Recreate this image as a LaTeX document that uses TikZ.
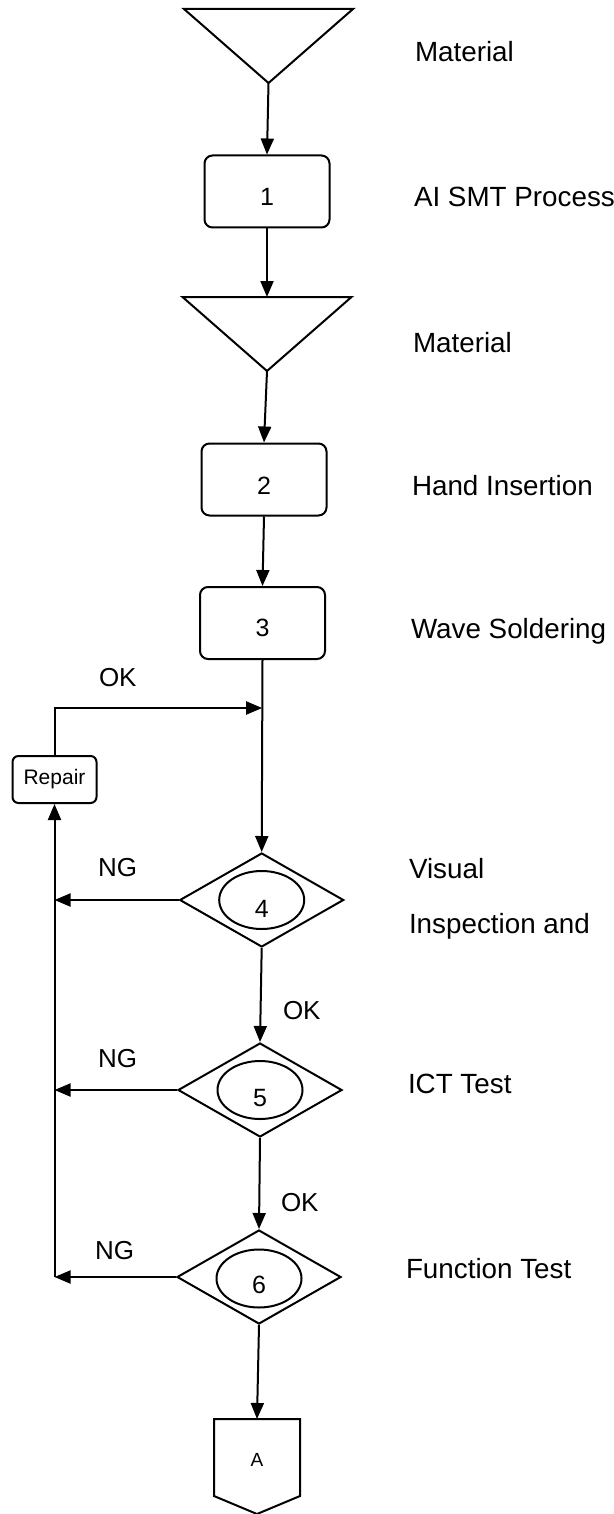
\documentclass[tikz,border=0pt]{standalone}
\usepackage{fontspec}
\setmainfont{Liberation Sans}
\usetikzlibrary{arrows.meta,shapes.geometric,calc}
\begin{document}
\begin{tikzpicture}[x=1pt,y=-1pt,
  line width=2pt, line join=miter,
  flow/.style={-{Triangle[length=16pt,width=13pt]}},
  procbox/.style={draw, rounded corners=8pt, minimum width=125pt, minimum height=72pt, inner sep=0pt},
  decis/.style={draw, diamond, minimum width=164pt, minimum height=94pt, inner sep=0pt},
  oval/.style={draw, ellipse, minimum width=85pt, minimum height=58pt, inner sep=0pt},
  num/.style={inner sep=0pt, font=\fontsize{25}{30}\selectfont},
  tri/.style={minimum width=167pt, minimum height=72pt, inner sep=0pt},
  desc/.style={anchor=base west, inner sep=0pt, font=\fontsize{27.8}{33}\selectfont},
  lbl/.style={anchor=base west, inner sep=0pt, font=\fontsize{26}{31}\selectfont},
  repbox/.style={draw, rounded corners=6pt, minimum width=84pt, minimum height=47pt, inner sep=0pt, font=\fontsize{21}{25}\selectfont},
  offpage/.style={minimum width=84pt, minimum height=93pt, inner sep=0pt}
]
\useasboundingbox (0,0) rectangle (613,1514);

% material triangles
\node[tri] (t1) at (268.5,46) {};
\draw (t1.north west) -- (t1.north east) -- (t1.south) -- cycle;
\node[tri] (t2) at (267,334) {};
\draw (t2.north west) -- (t2.north east) -- (t2.south) -- cycle;

% process boxes
\node[procbox] (b1) at (267,191.5) {};
\node[num] (n1) at ($(b1)+(0,5.5)$) {1};
\node[procbox] (b2) at (264,479.5) {};
\node[num] (n2) at ($(b2)+(0,6.5)$) {2};
\node[procbox] (b3) at (262.5,623) {};
\node[num] (n3) at ($(b3)+(0,4.5)$) {3};

% inspections
\node[decis] (d4) at (261.7,900) {};
\node[oval] (e4) at (d4) {};
\node[num] (n4) at ($(d4)+(0,8.5)$) {4};
\node[decis] (d5) at (260,1090) {};
\node[oval] (e5) at (d5) {};
\node[num] (n5) at ($(d5)+(0,8)$) {5};
\node[decis] (d6) at (259,1277) {};
\node[oval] (e6) at ($(d6)+(0,1.5)$) {};
\node[num] (n6) at ($(d6)+(0,8)$) {6};

% off-page connector A
\node[offpage] (A) at (257,1466.5) {};
\draw (A.north west) -- (A.north east) -- ($(A.south east)+(0,-18)$) -- (A.south) -- ($(A.south west)+(0,-18)$) -- cycle;
\node[inner sep=0pt, font=\fontsize{19}{22}\selectfont] (nA) at (257,1460) {A};

% repair
\node[repbox] (rep) at (54.5,779.5) {Repair};

% main flow
\draw[flow] (t1.south) -- (b1.north);
\draw[flow] (b1.south) -- (t2.north);
\draw[flow] (t2.south) -- (b2.north);
\draw[flow] (b2.south) -- (b3.north);
\draw[flow] (b3.south) -- (d4.north);
\draw[flow] (d4.south) -- (d5.north);
\draw[flow] (d5.south) -- (d6.north);
\draw[flow] (d6.south) -- (A.north);

% repair loop
\coordinate (j) at (262.2,708);
\draw[flow] (rep.north) |- (j);
\coordinate (c6) at (d6.west -| rep.south);
\draw[flow] (d4.west) -- (d4.west -| rep.south);
\draw[flow] (d5.west) -- (d5.west -| rep.south);
\draw[flow] (d6.west) -- (c6);
\draw[flow] (c6) -- (rep.south);

% OK / NG labels
\node[lbl] (ok0) at (98,686) {OK};
\node[lbl] (ok4) at (282,1019) {OK};
\node[lbl] (ok5) at (280,1211) {OK};
\node[lbl] (ng4) at (97,876) {NG};
\node[lbl] (ng5) at (97,1067) {NG};
\node[lbl] (ng6) at (94,1259) {NG};

% descriptions
\node[desc] (l1) at (414,62) {Material};
\node[desc] (l2) at (413,207) {AI SMT Process};
\node[desc] (l3) at (412,352) {Material};
\node[desc] (l4) at (411,495) {Hand Insertion};
\node[desc] (l5) at (410,638) {Wave Soldering};
\node[desc] (l6) at (408,878) {Visual};
\node[desc] (l7) at (408,933) {Inspection and};
\node[desc] (l8) at (407,1093) {ICT Test};
\node[desc] (l9) at (405,1278) {Function Test};
\end{tikzpicture}
\end{document}
